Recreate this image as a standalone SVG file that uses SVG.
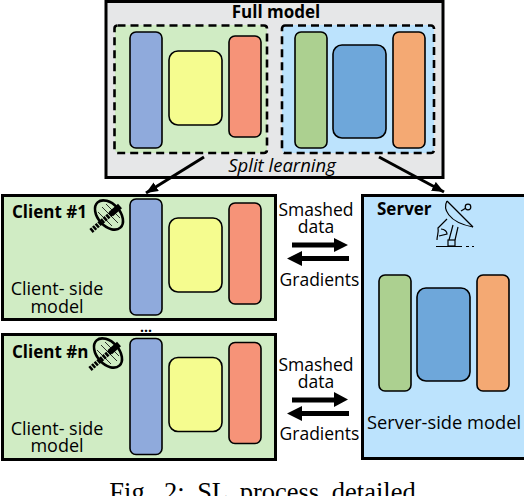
<svg xmlns="http://www.w3.org/2000/svg" width="524" height="496" viewBox="0 0 524 496">
<style>
.box{stroke:#000;stroke-width:3}
.full{fill:#e6e7e8}
.g{fill:#d0ecc4}
.b{fill:#bce3fd}
.dash{stroke:#000;stroke-width:2.6;stroke-dasharray:8 5;fill:none}
.bar{stroke:#000;stroke-width:1.6}
.c1{fill:#8faadc}.c2{fill:#f5fc8f}.c3{fill:#f69378}.c4{fill:#acd090}.c5{fill:#6ea7da}.c6{fill:#f4a973}
text{font-family:"Open Sans","Noto Sans",sans-serif;fill:#000;font-size:17.500px}
.bd{font-weight:700;font-size:17px}
.m{text-anchor:middle}
.ico{fill:none;stroke:#000;stroke-width:1.2}
.sat{fill:none;stroke:#000;stroke-width:2.600}
</style>
<defs>
<marker id="ah" markerUnits="userSpaceOnUse" markerWidth="14" markerHeight="12" refX="12" refY="5" orient="auto"><path d="M0 0L12 5L0 10Z" fill="#000"/></marker>
<g id="sat">
<ellipse cx="0" cy="0" rx="17" ry="11" transform="rotate(48)" class="sat"/>
<path d="M-7 -8L9 8M-3 -11L11 3M-11 -3L3 11" stroke="#000" stroke-width=".8"/>
<path d="M-18 16L3 -2" stroke="#000" stroke-width="5" stroke-dasharray="2.500 1"/>
<path d="M2 -1L11 -9" stroke="#000" stroke-width="6"/>
</g>
<g id="m1">
<rect class="bar c1" x="130" y="0" width="32" height="116" rx="6"/>
<rect class="bar c2" x="169" y="19" width="53" height="74" rx="9"/>
<rect class="bar c3" x="229" y="4" width="32" height="101" rx="6"/>
</g>
<g id="m2">
<rect class="bar c4" x="0" y="0" width="32" height="116" rx="6"/>
<rect class="bar c5" x="38" y="13" width="53" height="93" rx="9"/>
<rect class="bar c6" x="98" y="0" width="32" height="116" rx="6"/>
</g>
</defs>

<g id="full-model">
<rect class="box full" x="106" y="1.500" width="337" height="176"/>
<text class="bd m" x="276" y="18">Full model</text>
<rect class="g" x="115" y="25" width="152" height="128" rx="4"/>
<rect class="dash" x="114.500" y="25.500" width="152.500" height="127.500" rx="3"/>
<rect class="b" x="282" y="25" width="152" height="128" rx="4"/>
<rect class="dash" x="282" y="25.500" width="152" height="127.500" rx="3"/>
<use href="#m1" y="32"/>
<use href="#m2" x="295" y="32"/>
<text class="m" x="282" y="172" font-style="italic" style="font-size:18.500px">Split learning</text>
</g>

<g id="client-1">
<rect class="box g" x="2.500" y="195.500" width="273" height="124"/>
<text class="bd" x="12" y="218">Client #1</text>
<use href="#sat" x="109" y="215"/>
<text class="m" x="57" y="295" style="font-size:18px">Client- side</text>
<text class="m" x="57" y="313" style="font-size:18px">model</text>
<use href="#m1" y="199"/>
</g>

<g id="ellipsis"><text class="bd m" x="146" y="332" style="font-size:14px">...</text></g>

<g id="client-n">
<rect class="box g" x="2.500" y="334.500" width="273" height="125"/>
<text class="bd" x="12" y="358">Client #n</text>
<use href="#sat" x="108" y="353"/>
<text class="m" x="57" y="435" style="font-size:18px">Client- side</text>
<text class="m" x="57" y="452" style="font-size:18px">model</text>
<use href="#m1" y="338.500"/>
</g>

<g id="server">
<rect class="box b" x="362.500" y="195.500" width="164" height="263"/>
<text class="bd" x="377" y="215">Server</text>
<g class="ico">
<path d="M447 201L473 227"/>
<path d="M447 201C443 208 447 222 473 227"/>
<path d="M461 211L466 208"/>
<circle cx="468" cy="207" r="2.800"/>
<path d="M447 219L438 228C439 232 437 236 437 240"/>
<path d="M441 229C445 229 447 232 447 234L439 236"/>
<path d="M453 225L449 240M458 227L455 240"/>
<rect x="448" y="240" width="7" height="6"/>
<path d="M436 246.500H462M466 246.500H469M472 246.500H474"/>
</g>
<use href="#m2" x="379" y="275"/>
<text class="m" x="444" y="429" style="font-size:18.300px">Server-side model</text>
</g>

<g id="labels">
<text class="m" x="316" y="216">Smashed</text>
<text class="m" x="316" y="233">data</text>
<text class="m" x="319.500" y="286">Gradients</text>
<text class="m" x="316" y="371">Smashed</text>
<text class="m" x="316" y="388">data</text>
<text class="m" x="319.500" y="440">Gradients</text>
</g>

<g id="caption"><text x="262.500" y="500.500" text-anchor="middle" style="font-family:'Liberation Serif',serif;font-size:26.500px;word-spacing:6px">Fig. 2: SL process detailed</text></g>

<g id="connectors">
<path d="M204 157L146 193" stroke="#000" stroke-width="3" fill="none" marker-end="url(#ah)"/>
<path d="M379 157L444 192" stroke="#000" stroke-width="3" fill="none" marker-end="url(#ah)"/>
<path d="M292 242.500H334V238L348 245L334 252V247.500H292Z" fill="#000"/>
<path d="M349 256H302V251L287 258.500L302 266V261H349Z" fill="#000"/>
<path d="M292 397.500H334V392L348 399.500L334 407V402.500H292Z" fill="#000"/>
<path d="M349 411H302V406L287 413.500L302 421V416H349Z" fill="#000"/>
</g>
</svg>
